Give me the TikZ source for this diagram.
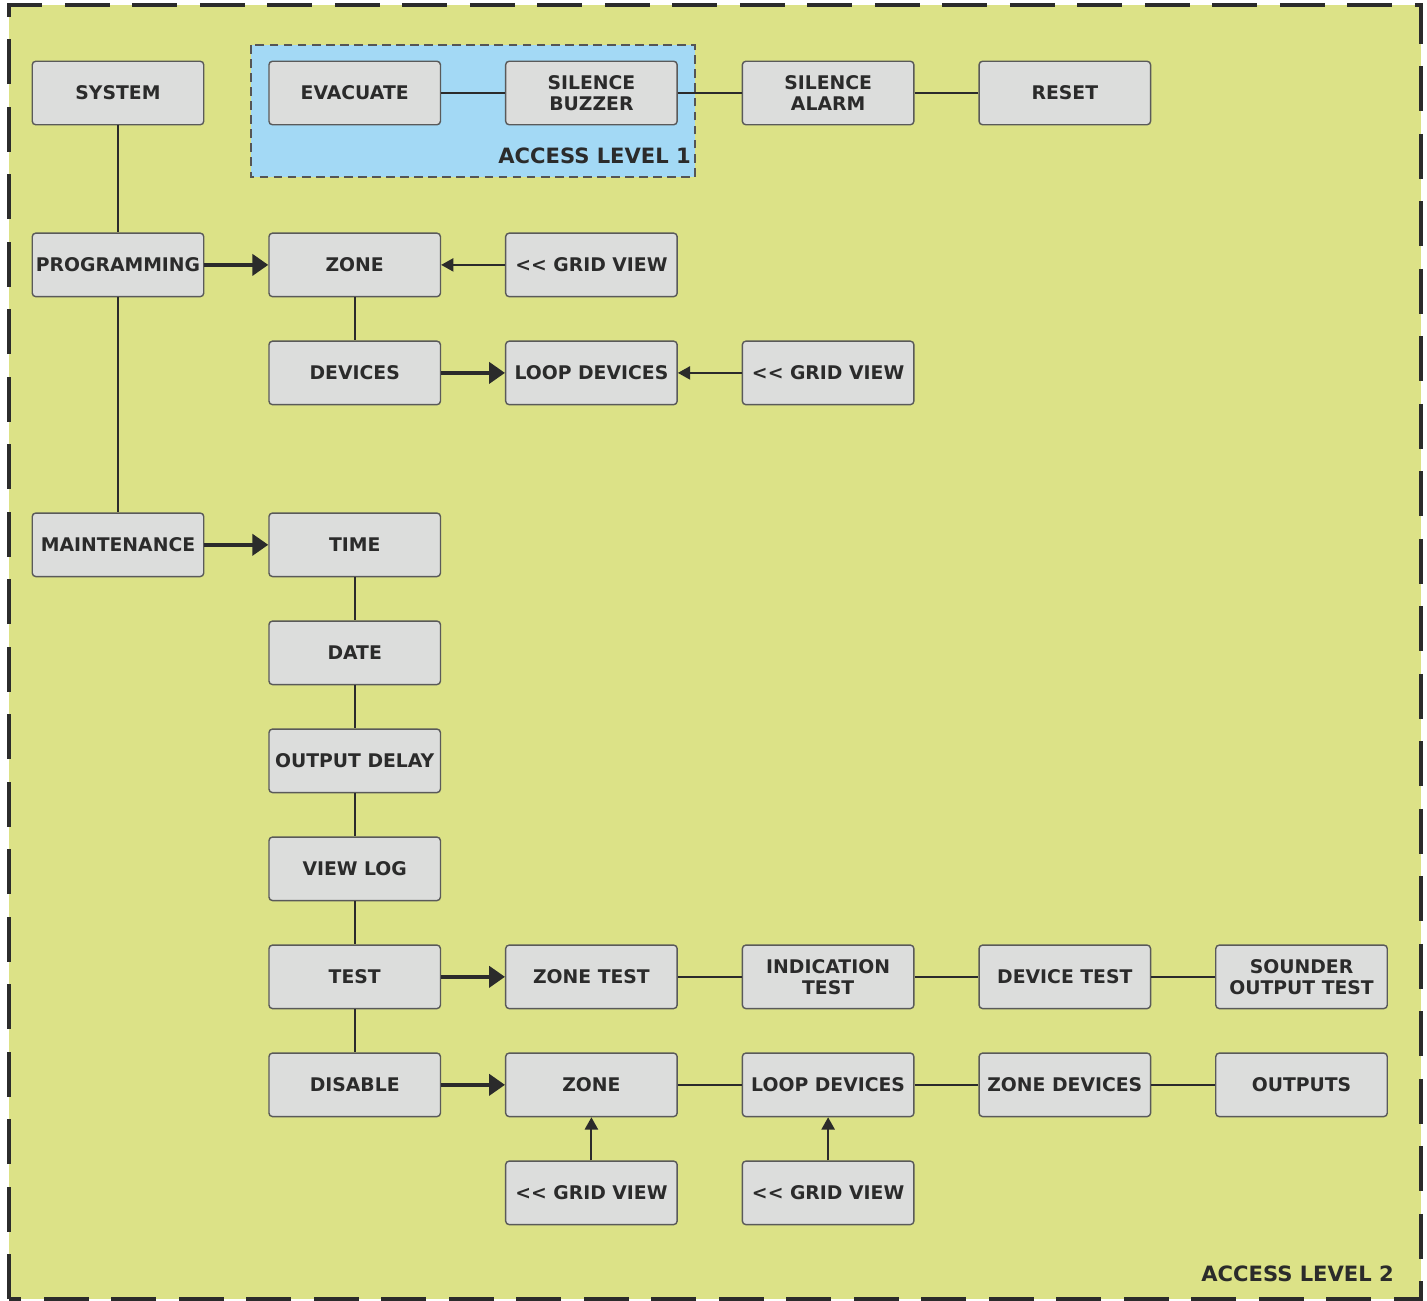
\documentclass[tikz,border=0pt]{standalone}
\usepackage{fontspec}
\setsansfont{DejaVu Sans}
\usepackage{tikz}
\usetikzlibrary{positioning,arrows.meta}
\definecolor{PanelGreen}{HTML}{DCE287}
\definecolor{PanelBlue}{HTML}{A3D9F5}
\definecolor{BoxGrey}{HTML}{DCDDDC}
\definecolor{BoxEdge}{HTML}{5A5A5A}
\definecolor{InkDark}{HTML}{2B2B2B}

\begin{document}
\begin{tikzpicture}[
  node distance=0.862cm and 1.276cm,
  box/.style={rounded corners=2pt,draw=BoxEdge,fill=BoxGrey,line width=0.8pt,
    minimum width=3.43cm,minimum height=1.27cm,align=center,inner sep=1pt,
    text=InkDark,font=\sffamily\bfseries\fontsize{10.7}{12}\selectfont},
  link/.style={line width=1.1pt,draw=InkDark},
  arr/.style={-{Triangle[length=9pt,width=12pt]},line width=2pt,draw=InkDark},
  back/.style={-{Triangle[length=7pt,width=7.5pt]},line width=1.1pt,draw=InkDark},
  lvl/.style={anchor=east,text=InkDark,font=\sffamily\bfseries\fontsize{12}{14}\selectfont}
]
  \useasboundingbox (0,0) rectangle (28.54,-26.02);
  \fill[PanelGreen] (0.18,-0.1) rectangle (28.42,-25.98);
  \draw[InkDark,line width=2.3pt,dash pattern=on 0.9cm off 0.45cm] (0.18,-25.98) -- (0.18,-0.1) -- (28.42,-0.1) -- (28.42,-25.98) -- cycle;
  \draw[fill=PanelBlue,draw=InkDark!80,line width=0.8pt,dash pattern=on 5pt off 3pt] (5.02,-0.9) rectangle (13.9,-3.54);
  \node[lvl] (lvlone) at (13.94,-3.12) {ACCESS LEVEL 1};
  \node[lvl] (lvltwo) at (28.0,-25.48) {ACCESS LEVEL 2};

  % top row
  \node[box] (system) at (2.36,-1.86) {SYSTEM};
  \node[box,right=of system] (evacuate) {EVACUATE};
  \node[box,right=of evacuate] (buzzer) {SILENCE\\BUZZER};
  \node[box,right=of buzzer] (alarm) {SILENCE\\ALARM};
  \node[box,right=of alarm] (reset) {RESET};

  % programming branch
  \node[box,below=2.14cm of system] (programming) {PROGRAMMING};
  \node[box,right=of programming] (zone) {ZONE};
  \node[box,right=of zone] (zonegrid) {<{}< GRID VIEW};
  \node[box,below=of zone] (devices) {DEVICES};
  \node[box,right=of devices] (loopdev) {LOOP DEVICES};
  \node[box,right=of loopdev] (loopgrid) {<{}< GRID VIEW};

  % maintenance branch
  \node[box,below=4.3cm of programming] (maintenance) {MAINTENANCE};
  \node[box,right=of maintenance] (time) {TIME};
  \node[box,below=of time] (date) {DATE};
  \node[box,below=of date] (delay) {OUTPUT DELAY};
  \node[box,below=of delay] (viewlog) {VIEW LOG};
  \node[box,below=of viewlog] (test) {TEST};
  \node[box,below=of test] (disable) {DISABLE};
  \node[box,right=of test] (zonetest) {ZONE TEST};
  \node[box,right=of zonetest] (indtest) {INDICATION\\TEST};
  \node[box,right=of indtest] (devtest) {DEVICE TEST};
  \node[box,right=of devtest] (sounder) {SOUNDER\\OUTPUT TEST};
  \node[box,right=of disable] (diszone) {ZONE};
  \node[box,right=of diszone] (disloop) {LOOP DEVICES};
  \node[box,right=of disloop] (diszonedev) {ZONE DEVICES};
  \node[box,right=of diszonedev] (disout) {OUTPUTS};
  \node[box,below=of diszone] (diszonegrid) {<{}< GRID VIEW};
  \node[box,below=of disloop] (disloopgrid) {<{}< GRID VIEW};

  \draw[link] (system) -- (programming);
  \draw[link] (programming) -- (maintenance);
  \draw[link] (evacuate) -- (buzzer);
  \draw[link] (buzzer) -- (alarm);
  \draw[link] (alarm) -- (reset);
  \draw[arr] (programming) -- (zone);
  \draw[back] (zonegrid) -- (zone);
  \draw[link] (zone) -- (devices);
  \draw[arr] (devices) -- (loopdev);
  \draw[back] (loopgrid) -- (loopdev);
  \draw[arr] (maintenance) -- (time);
  \draw[link] (time) -- (date);
  \draw[link] (date) -- (delay);
  \draw[link] (delay) -- (viewlog);
  \draw[link] (viewlog) -- (test);
  \draw[link] (test) -- (disable);
  \draw[arr] (test) -- (zonetest);
  \draw[link] (zonetest) -- (indtest);
  \draw[link] (indtest) -- (devtest);
  \draw[link] (devtest) -- (sounder);
  \draw[arr] (disable) -- (diszone);
  \draw[link] (diszone) -- (disloop);
  \draw[link] (disloop) -- (diszonedev);
  \draw[link] (diszonedev) -- (disout);
  \draw[back] (diszonegrid) -- (diszone);
  \draw[back] (disloopgrid) -- (disloop);
\end{tikzpicture}
\end{document}
